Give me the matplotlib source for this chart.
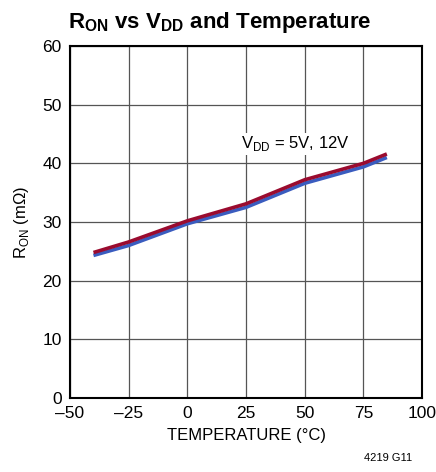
import matplotlib
matplotlib.use('Agg')
import matplotlib.pyplot as plt

plt.rcParams['font.family'] = ['Liberation Sans', 'DejaVu Sans']
plt.rcParams['mathtext.fontset'] = 'custom'
plt.rcParams['mathtext.rm'] = 'Liberation Sans'
plt.rcParams['mathtext.bf'] = 'Liberation Sans:bold'

temp = [-40, -25, 0, 25, 50, 75, 85]
ron_5v = [24.8, 26.6, 30.2, 33.1, 37.2, 40.0, 41.6]
ron_12v = [24.3, 26.0, 29.7, 32.5, 36.6, 39.4, 41.0]

fig = plt.figure(figsize=(4.36, 4.72), dpi=100)
ax = fig.add_axes([0.1606, 0.1568, 0.8074, 0.7457])

ax.plot(temp, ron_12v, color='#3a5cbf', lw=2.6, solid_capstyle='butt')
ax.plot(temp, ron_5v, color='#9a0b2f', lw=2.6, solid_capstyle='butt')

ax.set_xlim(-50, 100)
ax.set_ylim(0, 60)
ax.set_xticks([-50, -25, 0, 25, 50, 75, 100])
ax.set_xticklabels(['\u201350', '\u201325', '0', '25', '50', '75', '100'])
ax.set_yticks(range(0, 61, 10))
ax.tick_params(length=0, labelsize=12.5, pad=6)
ax.grid(True, color='#555555', lw=0.9)
for s in ax.spines.values():
    s.set_linewidth(1.5)

ax.set_xlabel('TEMPERATURE (\u00b0C)', fontsize=12, labelpad=5)
ax.set_ylabel('R$_{\\mathregular{ON}}$ (m\u03a9)', fontsize=12, labelpad=8)
ax.text(23, 43.3, 'V$_{\\mathregular{DD}}$ = 5V, 12V', fontsize=12, va='center',
        bbox=dict(facecolor='white', edgecolor='none', pad=1))

fig.text(0.156, 0.953, 'R$_{\\mathbf{ON}}$ vs V$_{\\mathbf{DD}}$ and Temperature',
         fontsize=16, fontweight='bold', va='center')
fig.text(0.945, 0.02, '4219 G11', fontsize=8, ha='right', va='bottom')

fig.savefig('out.png', dpi=100)
